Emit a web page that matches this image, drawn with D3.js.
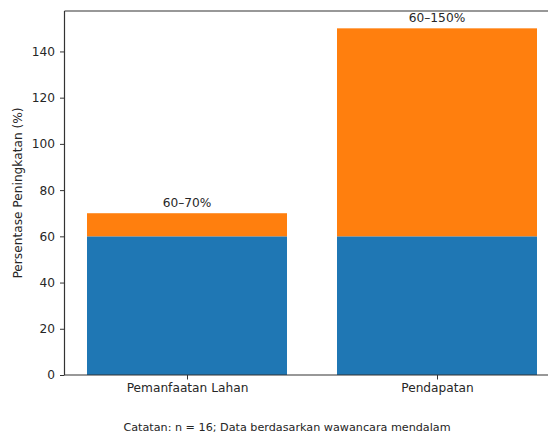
<!DOCTYPE html>
<html>
<head>
<meta charset="utf-8">
<script src="https://cdn.jsdelivr.net/npm/d3@7"></script>
<style>
  body { margin: 0; background: #fff; }
  text { font-family: "DejaVu Sans", sans-serif; fill: #262626; }
</style>
</head>
<body>
<svg id="chart" width="548" height="434"></svg>
<script>
// data
var categories = ["Pemanfaatan Lahan", "Pendapatan"];
var baseValues = [60, 60];
var extraValues = [10, 90];
var barLabels = ["60–70%", "60–150%"];
var yTicks = [0, 20, 40, 60, 80, 100, 120, 140];

var svg = d3.select("#chart");
var margin = { left: 64.5, top: 11, bottom: 59 };
var plotW = 495; // right spine falls outside the crop
var plotH = 434 - margin.top - margin.bottom;

var g = svg.append("g").attr("transform", `translate(${margin.left},${margin.top})`);

// x positions in "bar index" units like matplotlib
var x = d3.scaleLinear().domain([-0.49, 1.49]).range([0, plotW]);
var y = d3.scaleLinear().domain([0, 157.5]).range([plotH, 0]);
var barW = x(0.4) - x(0);

var rows = categories.map(function (c, i) {
  return { cat: c, i: i, base: baseValues[i], extra: extraValues[i], label: barLabels[i] };
});

g.selectAll("rect.base")
  .data(rows)
  .join("rect")
  .attr("class", "base")
  .attr("x", function (d) { return x(d.i) - barW; })
  .attr("width", barW * 2)
  .attr("y", function (d) { return y(d.base); })
  .attr("height", function (d) { return y(0) - y(d.base); })
  .attr("fill", "#1f77b4");

g.selectAll("rect.extra")
  .data(rows)
  .join("rect")
  .attr("class", "extra")
  .attr("x", function (d) { return x(d.i) - barW; })
  .attr("width", barW * 2)
  .attr("y", function (d) { return y(d.base + d.extra); })
  .attr("height", function (d) { return y(d.base) - y(d.base + d.extra); })
  .attr("fill", "#ff7f0e");

g.selectAll("text.lbl")
  .data(rows)
  .join("text")
  .attr("class", "lbl")
  .attr("x", function (d) { return x(d.i); })
  .attr("y", function (d) { return y(d.base + d.extra) - 6; })
  .attr("text-anchor", "middle")
  .style("font-size", "12.2px")
  .text(function (d) { return d.label; });

// axes
var yAxis = g.append("g").call(d3.axisLeft(y).tickValues(yTicks).tickSize(4.5).tickPadding(5));
var xAxis = g.append("g").attr("transform", `translate(0,${plotH})`)
  .call(d3.axisBottom(x).tickValues([0, 1]).tickFormat(function (d) { return categories[d]; }).tickSize(4.5).tickPadding(4));

[yAxis, xAxis].forEach(function (a) {
  a.select(".domain").remove();
  a.selectAll("line").attr("stroke", "#333");
  a.selectAll("text").style("font-size", "12.2px").attr("fill", "#262626");
});

// spines
g.append("line").attr("x1", 0).attr("x2", 0).attr("y1", 0).attr("y2", plotH).attr("stroke", "#333").attr("stroke-width", 1.2);
g.append("line").attr("x1", 0).attr("x2", plotW).attr("y1", plotH).attr("y2", plotH).attr("stroke", "#333").attr("stroke-width", 1.2);
g.append("line").attr("x1", 0).attr("x2", plotW).attr("y1", 0).attr("y2", 0).attr("stroke", "#333").attr("stroke-width", 1.2);

svg.append("text")
  .attr("transform", `translate(22,${margin.top + plotH / 2}) rotate(-90)`)
  .attr("text-anchor", "middle")
  .style("font-size", "12.2px")
  .text("Persentase Peningkatan (%)");

svg.append("text")
  .attr("x", 287)
  .attr("y", 431)
  .attr("text-anchor", "middle")
  .style("font-size", "11.2px")
  .text("Catatan: n = 16; Data berdasarkan wawancara mendalam");
</script>
</body>
</html>
